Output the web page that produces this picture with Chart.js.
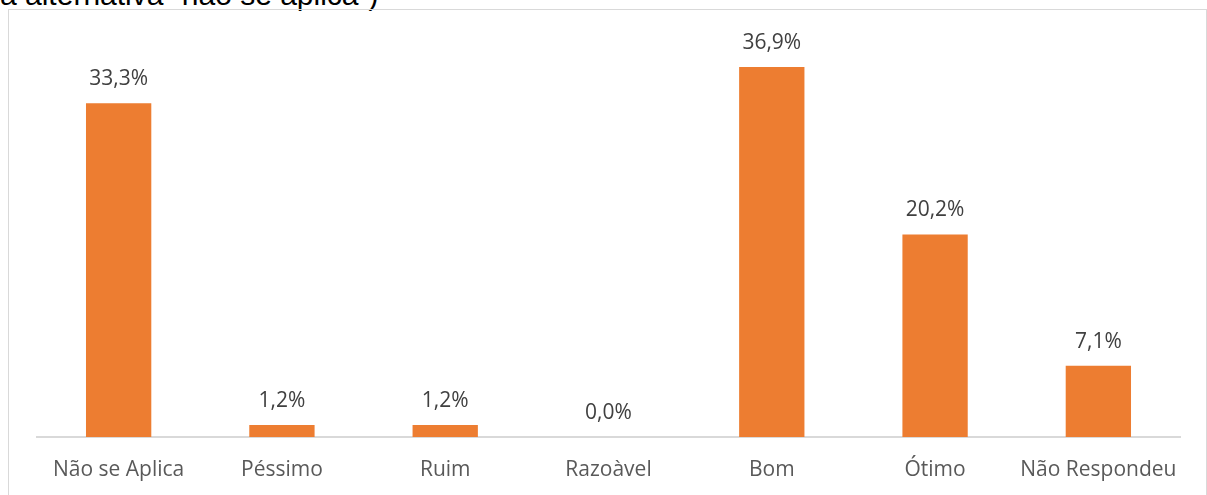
<!DOCTYPE html>
<html>
<head>
<meta charset="utf-8">
<script src="https://cdn.jsdelivr.net/npm/chart.js@4.4.0/dist/chart.umd.min.js"></script>
<style>
  html, body { margin: 0; padding: 0; background: #fff; overflow: hidden; }
  body { width: 1207px; height: 495px; position: relative; }
  #caption { position: absolute; left: 0; top: -20px; font: 30px "Liberation Sans", Arial, sans-serif; line-height: 29px; color: #000; white-space: nowrap; }
  #frame { position: absolute; left: 8px; top: 9px; width: 1197px; height: 500px; border: 1px solid #d9d9d9; }
  #wrap { position: absolute; left: 0; top: 0; width: 1207px; height: 495px; }
</style>
</head>
<body>
<div id="caption">a alternativa “não se aplica”)</div>
<div id="frame"></div>
<div id="wrap"><canvas id="chart"></canvas></div>
<script>
const categories = ['Não se Aplica', 'Péssimo', 'Ruim', 'Razoàvel', 'Bom', 'Ótimo', 'Não Respondeu'];
const values = [33.3, 1.2, 1.2, 0.0, 36.9, 20.2, 7.1];

const FONT = '"Open Sans", "Noto Sans", sans-serif';

// data labels above each bar
const valueLabels = {
  id: 'valueLabels',
  afterDatasetsDraw(chart) {
    const ctx = chart.ctx;
    const meta = chart.getDatasetMeta(0);
    ctx.save();
    ctx.font = `21px ${FONT}`;
    ctx.fillStyle = '#404040';
    ctx.textAlign = 'center';
    ctx.textBaseline = 'middle';
    meta.data.forEach((bar, i) => {
      const txt = values[i].toFixed(1).replace('.', ',') + '%';
      ctx.fillText(txt, bar.x, bar.y - 24);
    });
    ctx.restore();
  }
};

new Chart(document.getElementById('chart'), {
  type: 'bar',
  data: {
    labels: categories,
    datasets: [{
      data: values,
      backgroundColor: '#ED7D31',
      borderWidth: 0,
      categoryPercentage: 1,
      barPercentage: 0.4
    }]
  },
  options: {
    responsive: true,
    maintainAspectRatio: false,
    animation: false,
    layout: { padding: { left: 37, right: 27, top: 36, bottom: 14 } },
    plugins: { legend: { display: false }, tooltip: { enabled: false } },
    scales: {
      x: {
        grid: { display: false, drawTicks: false },
        border: { display: true, color: '#d9d9d9', width: 2 },
        ticks: { color: '#595959', font: { family: FONT, size: 21 }, padding: 20, maxRotation: 0 },
        afterFit(scale) { scale.height = 44; }
      },
      y: {
        display: false,
        min: 0,
        max: 40
      }
    }
  },
  plugins: [valueLabels]
});
</script>
</body>
</html>
